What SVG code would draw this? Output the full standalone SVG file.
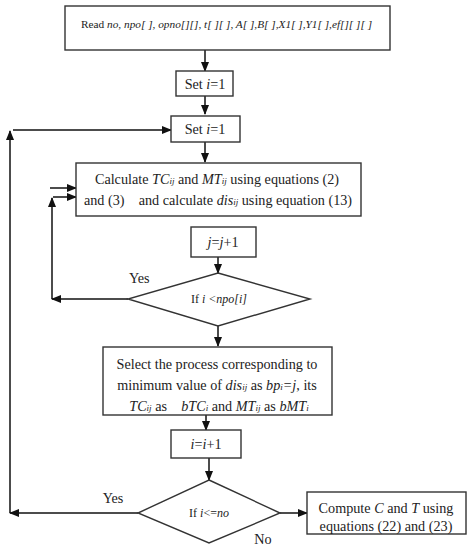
<svg xmlns="http://www.w3.org/2000/svg" width="472" height="550" viewBox="0 0 472 550">
<style>
.box{fill:#fff;stroke:#333;stroke-width:1.4}
.ln{fill:none;stroke:#111;stroke-width:1.5}
text{font-family:"Liberation Serif","Times New Roman",serif;fill:#222;font-size:14.2px;white-space:pre}
.c{text-anchor:middle}
.i{font-style:italic}
.s{font-size:9px;font-style:italic}
.d{font-size:12px}
</style>
<defs>
<marker id="ah" markerWidth="10" markerHeight="8" refX="9" refY="4" orient="auto" markerUnits="userSpaceOnUse">
<path d="M0,0 L10,4 L0,8 Z" fill="#111"/>
</marker>
</defs>
<rect width="472" height="550" fill="#fff"/>
<g id="connectors">
<path class="ln" d="M205,50 V71" marker-end="url(#ah)"/>
<path class="ln" d="M205,96 V114" marker-end="url(#ah)"/>
<path class="ln" d="M205,142 V162" marker-end="url(#ah)"/>
<path class="ln" d="M218,257 V273" marker-end="url(#ah)"/>
<path class="ln" d="M128,299 H52" marker-end="url(#ah)"/>
<path class="ln" d="M52,299 V198" marker-end="url(#ah)"/>
<path class="ln" d="M53,197 H76" marker-end="url(#ah)"/>
<path class="ln" d="M50,188 H76" marker-end="url(#ah)"/>
<path class="ln" d="M218,326 V346" marker-end="url(#ah)"/>
<path class="ln" d="M206,415 V430" marker-end="url(#ah)"/>
<path class="ln" d="M209,458 V480" marker-end="url(#ah)"/>
<path class="ln" d="M138,513 H10" marker-end="url(#ah)"/>
<path class="ln" d="M10,513 V131" marker-end="url(#ah)"/>
<path class="ln" d="M13,130 H171" marker-end="url(#ah)"/>
<path class="ln" d="M280,513 H307" marker-end="url(#ah)"/>
<text x="129" y="283">Yes</text>
<text x="113" y="503" class="c">Yes</text>
<text x="263" y="544" class="c">No</text>
</g>
<g id="read">
<rect class="box" x="65" y="6" width="325" height="44"/>
<text x="81" y="28" style="font-size:11.3px">Read <tspan class="i">no, npo[ ], opno[][], t[ ][ ], A[ ],B[ ],X1[ ],Y1[ ],ef[][ ][ ]</tspan></text>
</g>
<g id="set-j">
<rect class="box" x="176" y="71" width="57" height="25"/>
<text x="205" y="89" class="c">Set <tspan class="i">i</tspan>=1</text>
</g>
<g id="set-i">
<rect class="box" x="171" y="116" width="69" height="26"/>
<text x="205" y="134" class="c">Set <tspan class="i">i</tspan>=1</text>
</g>
<g id="calculate">
<rect class="box" x="76" y="163" width="285" height="53"/>
<text x="217" y="184" class="c">Calculate <tspan class="i">TC</tspan><tspan class="s">ij</tspan> and <tspan class="i">MT</tspan><tspan class="s">ij</tspan> using equations (2)</text>
<text x="218" y="205" class="c">and (3)    and calculate <tspan class="i">dis</tspan><tspan class="s">ij</tspan> using equation (13)</text>
</g>
<g id="incj">
<rect class="box" x="191" y="227" width="65" height="30"/>
<text x="223" y="247" class="c"><tspan class="i">j</tspan>=<tspan class="i">j</tspan>+1</text>
</g>
<g id="cond-j">
<polygon class="box" points="218,273 310,299 218,326 128,299"/>
<text x="219" y="303" class="c d">If <tspan class="i">i &lt;npo[i]</tspan></text>
</g>
<g id="select">
<rect class="box" x="103" y="347" width="229" height="68"/>
<text x="217" y="369" class="c">Select the process corresponding to</text>
<text x="217" y="390" class="c">minimum value of <tspan class="i">dis</tspan><tspan class="s">ij</tspan> as <tspan class="i">bp</tspan><tspan class="s">i</tspan><tspan class="i">=j</tspan>, its</text>
<text x="219" y="411" class="c"><tspan class="i">TC</tspan><tspan class="s">ij</tspan> as    <tspan class="i">bTC</tspan><tspan class="s">i</tspan> and <tspan class="i">MT</tspan><tspan class="s">ij</tspan> as <tspan class="i">bMT</tspan><tspan class="s">i</tspan></text>
</g>
<g id="inci">
<rect class="box" x="171" y="430" width="70" height="28"/>
<text x="206" y="449" class="c"><tspan class="i">i</tspan>=<tspan class="i">i</tspan>+1</text>
</g>
<g id="cond-i">
<polygon class="box" points="209,480 280,513 209,543 138,513"/>
<text x="209" y="517" class="c d">If <tspan class="i">i</tspan>&lt;=<tspan class="i">no</tspan></text>
</g>
<g id="compute">
<rect class="box" x="307" y="492" width="159" height="42"/>
<text x="386" y="513" class="c">Compute <tspan class="i">C</tspan> and <tspan class="i">T</tspan> using</text>
<text x="386" y="531" class="c">equations (22) and (23)</text>
</g>
</svg>
